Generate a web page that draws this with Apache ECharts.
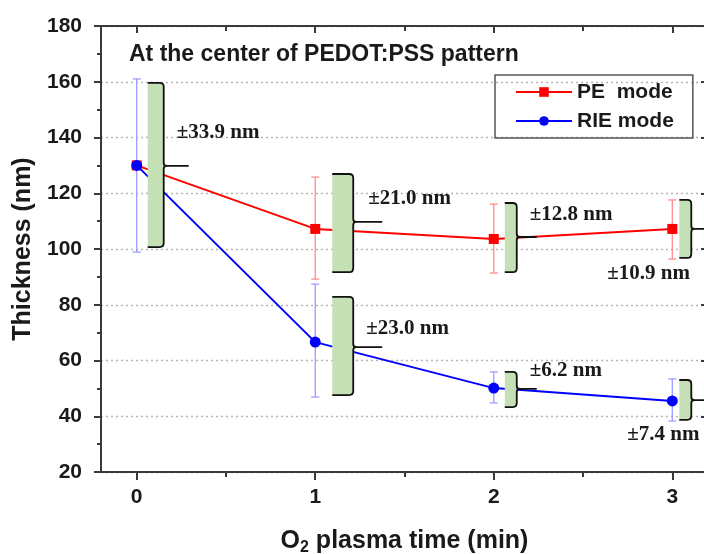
<!DOCTYPE html>
<html>
<head>
<meta charset="utf-8">
<script src="https://cdn.jsdelivr.net/npm/echarts@6/dist/echarts.min.js"></script>
<style>html,body{margin:0;padding:0;background:#fff;}#c{width:704px;height:554px;}</style>
</head>
<body>
<div id="c"></div>
<script>
// ---- data ----
const times = [0, 1, 2, 3];
const peThickness = [130, 107.2, 103.6, 107.2];
const rieThickness = [130, 66.6, 50.1, 45.5];
const peErrLow = [null, 89.2, 91.4, 96.4];
const peErrHigh = [null, 125.8, 116.1, 117.6];
const rieErrLow = [98.9, 46.9, 44.8, 38.3];
const rieErrHigh = [161, 87.4, 55.9, 53.4];
const bracketX = [0, 1, 1, 2, 2, 3, 3];
const bracketLow = [100.7, 91.7, 47.6, 91.7, 43.3, 96.8, 38.7];
const bracketHigh = [159.6, 126.9, 82.8, 116.5, 55.9, 117.6, 53.0];
const bracketMid = [129.8, 109.7, 64.8, 104.3, 49.8, 107.2, 45.8];
const bracketLabels = ['±33.9 nm', '±21.0 nm', '±23.0 nm', '±12.8 nm', '±6.2 nm', '±10.9 nm', '±7.4 nm'];
const xMajorTicks = [0, 1, 2, 3];
const xMinorTicks = [0.5, 1.5, 2.5];
const seriesNames = ['PE  mode', 'RIE mode'];

// ---- layout / style (pixels) ----
// [bracket dx from point, bracket width, tick length, label dx from point, label dy from mid]
const bracketLayout = [
  [11, 16, 25, 40, -33],
  [17, 21, 29, 53, -23],
  [17, 21, 29, 51, -19],
  [11, 12, 20, 36, -22],
  [11, 12, 20, 36, -18],
  [7, 12, 20, -65, 45],
  [7, 12, 20, -45, 34]
];

const AX = '#3a3a3a';
const chart = echarts.init(document.getElementById('c'));

function errData(lo, hi) {
  const out = [];
  times.forEach((t, i) => { if (lo[i] != null) out.push([t, lo[i], hi[i]]); });
  return out;
}

function errRender(color) {
  return function (params, api) {
    const x = api.value(0);
    const top = api.coord([x, api.value(2)]);
    const bot = api.coord([x, api.value(1)]);
    const w = 4;
    const st = { stroke: color, lineWidth: 1.3 };
    return {
      type: 'group',
      children: [
        { type: 'line', shape: { x1: top[0], y1: top[1], x2: bot[0], y2: bot[1] }, style: st },
        { type: 'line', shape: { x1: top[0] - w, y1: top[1], x2: top[0] + w, y2: top[1] }, style: st },
        { type: 'line', shape: { x1: bot[0] - w, y1: bot[1], x2: bot[0] + w, y2: bot[1] }, style: st }
      ]
    };
  };
}

function bracketRender(params, api) {
  const i = params.dataIndex;
  const lay = bracketLayout[i];
  const x = api.value(0);
  const pT = api.coord([x, api.value(2)]);
  const pB = api.coord([x, api.value(1)]);
  const pM = api.coord([x, api.value(3)]);
  const L = pT[0] + lay[0];
  const R = L + lay[1];
  const T = pT[1], B = pB[1], M = pM[1];
  const tick = lay[2];
  const c = 4;
  const path = `M${L},${T} L${R - c},${T} Q${R},${T} ${R},${T + c} L${R},${M - 3} Q${R},${M} ${R + 3},${M} L${R + tick},${M} M${R + 3},${M} Q${R},${M} ${R},${M + 3} L${R},${B - c} Q${R},${B} ${R - c},${B} L${L},${B}`;
  return {
    type: 'group',
    children: [
      { type: 'rect', shape: { x: L, y: T, width: R - L, height: B - T }, style: { fill: '#c5e0b4' } },
      { type: 'path', shape: { pathData: path }, style: { stroke: '#111', lineWidth: 1.8, fill: null } },
      { type: 'text', x: pT[0] + lay[3], y: M + lay[4],
        style: { text: bracketLabels[i], fontFamily: 'Liberation Serif', fontWeight: 'bold', fontSize: 21, fill: '#1a1a1a', align: 'left', verticalAlign: 'middle' } }
    ]
  };
}

const xBase = { type: 'value', min: -0.2, max: 3.2, gridIndex: 0, splitLine: { show: false } };

const option = {
  animation: false,
  backgroundColor: '#fff',
  textStyle: { fontFamily: 'Liberation Sans' },
  grid: { left: 101, top: 26, width: 607, height: 446, containLabel: false, outerBoundsMode: 'none' },
  legend: {
    left: 495, top: 75, orient: 'vertical',
    data: seriesNames,
    itemWidth: 56, itemHeight: 12, itemGap: 7,
    padding: [6, 19, 6, 20],
    borderColor: '#555', borderWidth: 1.5,
    textStyle: { fontFamily: 'Liberation Sans', fontWeight: 'bold', fontSize: 21, color: '#1a1a1a', lineHeight: 22 }
  },
  graphic: [
    { type: 'text', x: 129, y: 55, style: { text: 'At the center of PEDOT:PSS pattern', fontFamily: 'Liberation Sans', fontWeight: 'bold', fontSize: 23, fill: '#1a1a1a', verticalAlign: 'middle' } }
  ],
  xAxis: [
    Object.assign({}, xBase, {
      position: 'bottom',
      name: '{a|O}{s|2}{a| plasma time (min)}',
      nameLocation: 'middle', nameGap: 54,
      nameTextStyle: { rich: {
        a: { fontFamily: 'Liberation Sans', fontWeight: 'bold', fontSize: 25, color: '#1a1a1a', lineHeight: 30, verticalAlign: 'middle' },
        s: { fontFamily: 'Liberation Sans', fontWeight: 'bold', fontSize: 16, color: '#1a1a1a', verticalAlign: 'bottom', lineHeight: 30 }
      } },
      axisLine: { show: true, onZero: false, lineStyle: { color: AX, width: 2 } },
      axisTick: { show: true, customValues: xMajorTicks, length: 8, lineStyle: { color: AX, width: 2 } },
      axisLabel: { customValues: xMajorTicks, margin: 15, fontFamily: 'Liberation Sans', fontWeight: 'bold', fontSize: 21, color: '#1a1a1a' }
    }),
    Object.assign({}, xBase, {
      position: 'bottom',
      axisLine: { show: false, onZero: false },
      axisTick: { show: true, customValues: xMinorTicks, length: 5, lineStyle: { color: AX, width: 2 } },
      axisLabel: { show: false }
    }),
    Object.assign({}, xBase, {
      position: 'top',
      axisLine: { show: true, onZero: false, lineStyle: { color: AX, width: 2 } },
      axisTick: { show: true, inside: true, customValues: xMajorTicks, length: 7, lineStyle: { color: AX, width: 2 } },
      axisLabel: { show: false }
    }),
    Object.assign({}, xBase, {
      position: 'top',
      axisLine: { show: false, onZero: false },
      axisTick: { show: true, inside: true, customValues: xMinorTicks, length: 5, lineStyle: { color: AX, width: 2 } },
      axisLabel: { show: false }
    })
  ],
  yAxis: [
    {
      type: 'value', min: 20, max: 180, interval: 20, position: 'left',
      name: 'Thickness (nm)', nameLocation: 'middle', nameGap: 60,
      nameTextStyle: { fontFamily: 'Liberation Sans', fontWeight: 'bold', fontSize: 25, color: '#1a1a1a' },
      axisLine: { show: true, onZero: false, lineStyle: { color: AX, width: 2 } },
      axisTick: { show: true, length: 7, lineStyle: { color: AX, width: 2 } },
      minorTick: { show: true, splitNumber: 2, length: 4, lineStyle: { color: AX, width: 2 } },
      axisLabel: { margin: 19, fontFamily: 'Liberation Sans', fontWeight: 'bold', fontSize: 21, color: '#1a1a1a' },
      splitLine: { show: true, lineStyle: { type: [2, 3], color: '#b5b5b5', width: 1.3 } }
    },
    {
      type: 'value', min: 20, max: 180, interval: 20, position: 'right',
      axisLine: { show: true, onZero: false, lineStyle: { color: AX, width: 2 } },
      axisTick: { show: true, inside: true, length: 7, lineStyle: { color: AX, width: 2 } },
      minorTick: { show: true, splitNumber: 2, length: 4, lineStyle: { color: AX, width: 2 } },
      axisLabel: { show: false },
      splitLine: { show: false }
    }
  ],
  series: [
    {
      type: 'custom', name: 'peErr', xAxisIndex: 0, yAxisIndex: 0, z: 2,
      data: errData(peErrLow, peErrHigh), renderItem: errRender('#ff8c8c'), silent: true
    },
    {
      type: 'custom', name: 'rieErr', xAxisIndex: 0, yAxisIndex: 0, z: 2,
      data: errData(rieErrLow, rieErrHigh), renderItem: errRender('#9c9cff'), silent: true
    },
    {
      type: 'line', name: seriesNames[0], xAxisIndex: 0, yAxisIndex: 0, z: 5,
      data: times.map((t, i) => [t, peThickness[i]]),
      symbol: 'rect', symbolSize: 10,
      lineStyle: { color: '#ff0000', width: 2 },
      itemStyle: { color: '#ff0000' }
    },
    {
      type: 'line', name: seriesNames[1], xAxisIndex: 0, yAxisIndex: 0, z: 6,
      data: times.map((t, i) => [t, rieThickness[i]]),
      symbol: 'circle', symbolSize: 11,
      lineStyle: { color: '#0000ff', width: 2 },
      itemStyle: { color: '#0000ff' }
    },
    {
      type: 'custom', name: 'brackets', xAxisIndex: 0, yAxisIndex: 0, z: 10,
      data: bracketX.map((x, i) => [x, bracketLow[i], bracketHigh[i], bracketMid[i]]),
      renderItem: bracketRender, silent: true
    }
  ]
};
chart.setOption(option);
</script>
</body>
</html>
